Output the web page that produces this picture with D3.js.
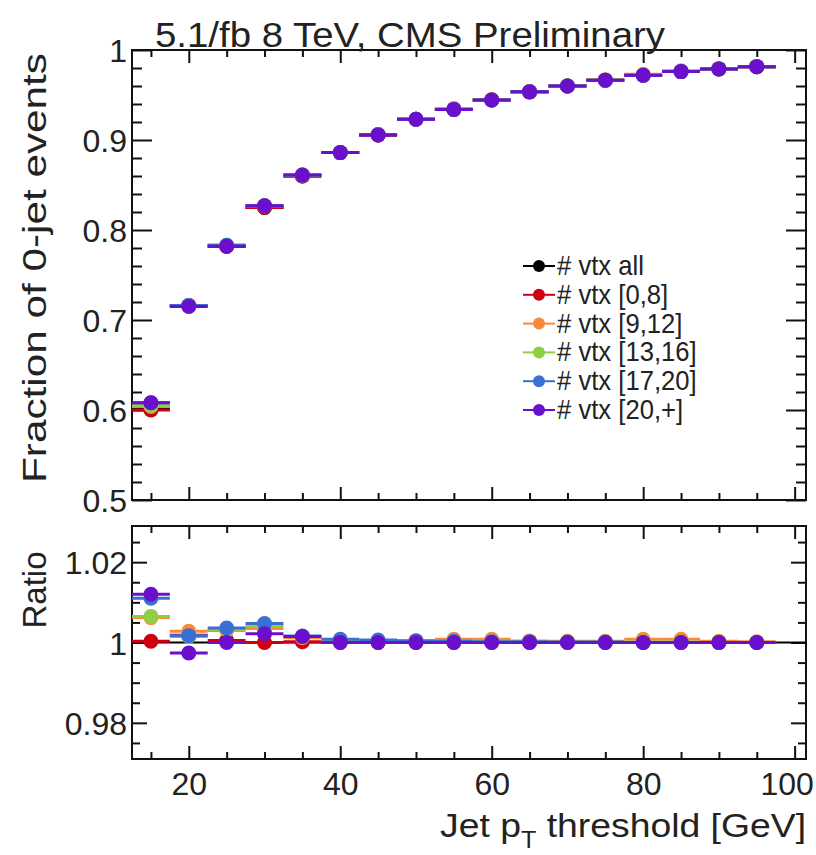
<!DOCTYPE html>
<html><head><meta charset="utf-8">
<script src="https://cdn.jsdelivr.net/npm/d3@7"></script>
<style>body{margin:0;background:#fff}svg{display:block}text{font-family:"Liberation Sans",Arial,sans-serif;fill:#222}</style>
</head><body><svg id="c" width="816" height="855"></svg>
<script>
// ---- data ----
const ptBins = [15,20,25,30,35,40,45,50,55,60,65,70,75,80,85,90,95];
const seriesNames = ["# vtx all","# vtx [0,8]","# vtx [9,12]","# vtx [13,16]","# vtx [17,20]","# vtx [20,+]"];
const seriesColors = ["#000000","#cc0010","#f98a3a","#8fcf42","#3a6fd6","#6a10cc"];
const fracAll    = [0.6005,0.716,0.782,0.825,0.860,0.886,0.9055,0.923,0.934,0.9445,0.9535,0.960,0.9665,0.972,0.976,0.979,0.9815];
const frac0to8   = [0.600,0.716,0.782,0.825,0.860,0.886,0.9055,0.923,0.934,0.9445,0.9535,0.960,0.9665,0.972,0.976,0.979,0.9815];
const frac9to12  = [0.604,0.716,0.783,0.827,0.861,0.886,0.906,0.923,0.935,0.945,0.954,0.960,0.967,0.973,0.977,0.979,0.9815];
const frac13to16 = [0.605,0.716,0.783,0.827,0.861,0.886,0.906,0.923,0.934,0.9445,0.9535,0.960,0.9665,0.972,0.976,0.979,0.9815];
const frac17to20 = [0.608,0.716,0.783,0.827,0.861,0.886,0.906,0.923,0.934,0.9445,0.9535,0.960,0.9665,0.972,0.976,0.979,0.9815];
const frac20plus = [0.608,0.715,0.782,0.827,0.861,0.886,0.9055,0.923,0.934,0.9445,0.9535,0.960,0.9665,0.972,0.976,0.979,0.9815];
const ratio0to8   = [1.0003,1.0018,1.0005,1.0000,1.0002,1.0000,1.0000,1.0000,1.0000,1.0000,1.0000,1.0000,1.0000,1.0000,1.0000,1.0000,1.0000];
const ratio9to12  = [1.0062,1.0028,1.0030,1.0035,1.0012,1.0005,1.0003,1.0005,1.0008,1.0008,1.0004,1.0003,1.0003,1.0008,1.0008,1.0003,1.0002];
const ratio13to16 = [1.0065,1.0015,1.0033,1.0042,1.0015,1.0006,1.0004,1.0003,1.0003,1.0002,1.0002,1.0001,1.0001,1.0001,1.0001,1.0000,1.0000];
const ratio17to20 = [1.0110,1.0017,1.0036,1.0047,1.0016,1.0008,1.0006,1.0004,1.0003,1.0002,1.0002,1.0001,1.0001,1.0000,1.0000,1.0000,1.0000];
const ratio20plus = [1.0120,0.9974,1.0000,1.0022,1.0015,1.0000,1.0000,1.0000,1.0000,1.0000,1.0000,1.0000,1.0000,1.0000,1.0000,1.0000,1.0000];
const xTickVals = [20,40,60,80,100];
const xTickLabels = ["20","40","60","80","100"];
const topTickVals = [0.5,0.6,0.7,0.8,0.9,1.0];
const topTickLabels = ["0.5","0.6","0.7","0.8","0.9","1"];
const ratioTickVals = [0.98,1.0,1.02];
const ratioTickLabels = ["0.98","1","1.02"];
const binHalfWidth = 2.5;

const topSeries = [fracAll,frac0to8,frac9to12,frac13to16,frac17to20,frac20plus];
const ratioSeries = [null,ratio0to8,ratio9to12,ratio13to16,ratio17to20,ratio20plus];

// ---- layout ----
const L = 132, R = 806;
const topT = 50, topB = 500;
const rT = 526, rB = 759;
const svg = d3.select("#c");
const x = d3.scaleLinear().domain([12.5,101.5]).range([L,R]);
const yTop = d3.scaleLinear().domain([0.5,1.0]).range([topB,topT]);
const yR = d3.scaleLinear().domain([0.971,1.029]).range([rB,rT]);

function axes(g, y, yMaj, yMajLab, yMin, yMajLen, yMinLen, top, bottom, showX){
  const fs = 32;
  const al = g.append("g").attr("transform",`translate(${L},0)`)
    .call(d3.axisLeft(y).tickValues(yMaj).tickSize(-yMajLen).tickPadding(5)
      .tickFormat((d,i)=>yMajLab[i]));
  al.selectAll("text").style("font-size",fs+"px").attr("dy","0.36em");
  g.append("g").attr("transform",`translate(${L},0)`)
    .call(d3.axisLeft(y).tickValues(yMin).tickSize(-yMinLen).tickFormat(""));
  g.append("g").attr("transform",`translate(${R},0)`)
    .call(d3.axisRight(y).tickValues(yMaj).tickSize(-yMajLen).tickFormat(""));
  g.append("g").attr("transform",`translate(${R},0)`)
    .call(d3.axisRight(y).tickValues(yMin).tickSize(-yMinLen).tickFormat(""));
  const xMin = d3.range(15,101,5).filter(v=>v%20!==0);
  const ab = g.append("g").attr("transform",`translate(0,${bottom})`)
    .call(d3.axisBottom(x).tickValues(xTickVals).tickSize(-13).tickPadding(13)
      .tickFormat((d,i)=> showX ? xTickLabels[i] : ""));
  ab.selectAll("text").style("font-size",fs+"px");
  ab.selectAll("text").filter(d=>d===100).attr("dx",-8);
  g.append("g").attr("transform",`translate(0,${bottom})`)
    .call(d3.axisBottom(x).tickValues(xMin).tickSize(-7).tickFormat(""));
  g.append("g").attr("transform",`translate(0,${top})`)
    .call(d3.axisTop(x).tickValues(xTickVals).tickSize(-13).tickFormat(""));
  g.append("g").attr("transform",`translate(0,${top})`)
    .call(d3.axisTop(x).tickValues(xMin).tickSize(-7).tickFormat(""));
  g.selectAll(".domain").remove();
  g.selectAll(".tick line").attr("stroke","#111").attr("stroke-width",2);
  g.append("rect").attr("x",L).attr("y",top).attr("width",R-L).attr("height",bottom-top)
    .attr("fill","none").attr("stroke","#111").attr("stroke-width",2);
}

const gTop = svg.append("g");
axes(gTop, yTop, topTickVals, topTickLabels, d3.range(0.52,1.0,0.02).filter(v=>Math.abs(v*10-Math.round(v*10))>1e-6), 20, 10, topT, topB, false);
const gR = svg.append("g");
axes(gR, yR, ratioTickVals, ratioTickLabels, [0.975,0.985,0.99,0.995,1.005,1.01,1.015,1.025], 15, 8, rT, rB, true);

gR.append("line").attr("x1",L).attr("x2",R).attr("y1",yR(1)).attr("y2",yR(1))
  .attr("stroke","#000").attr("stroke-width",2);

function drawSeries(g, y, vals, color){
  const s = g.append("g");
  s.selectAll("line.eb").data(vals).join("line").attr("class","eb")
    .attr("x1",(d,i)=>x(ptBins[i]-binHalfWidth)).attr("x2",(d,i)=>x(ptBins[i]+binHalfWidth))
    .attr("y1",d=>y(d)).attr("y2",d=>y(d)).attr("stroke",color).attr("stroke-width",3);
  s.selectAll("circle").data(vals).join("circle")
    .attr("cx",(d,i)=>x(ptBins[i])).attr("cy",d=>y(d)).attr("r",7.5).attr("fill",color);
}
topSeries.forEach((v,i)=>drawSeries(gTop,yTop,v,seriesColors[i]));
ratioSeries.forEach((v,i)=>{ if(v) drawSeries(gR,yR,v,seriesColors[i]); });

// legend
const lg = svg.append("g");
seriesNames.forEach((n,i)=>{
  const yy = 266 + i*28.8;
  lg.append("line").attr("x1",523).attr("x2",555).attr("y1",yy).attr("y2",yy)
    .attr("stroke",seriesColors[i]).attr("stroke-width",2);
  lg.append("circle").attr("cx",539).attr("cy",yy).attr("r",6).attr("fill",seriesColors[i]);
  lg.append("text").attr("x",557).attr("y",yy+9).style("font-size","27px")
    .attr("transform",`translate(557,0) scale(0.95,1) translate(-557,0)`).text(n);
});

// texts
svg.append("text").attr("x",155).attr("y",47).style("font-size","35px")
  .attr("textLength",510).attr("lengthAdjust","spacingAndGlyphs").text("5.1/fb 8 TeV, CMS Preliminary");
svg.append("text").attr("transform","translate(46,268) rotate(-90)").attr("text-anchor","middle")
  .style("font-size","33px").attr("textLength",430).attr("lengthAdjust","spacingAndGlyphs")
  .text("Fraction of 0-jet events");
svg.append("text").attr("transform","translate(46,590) rotate(-90)").attr("text-anchor","middle")
  .style("font-size","33px").text("Ratio");
const xl = svg.append("text").attr("x",806).attr("y",837).attr("text-anchor","end").style("font-size","34px")
  .attr("textLength",366).attr("lengthAdjust","spacingAndGlyphs");
xl.append("tspan").text("Jet p");
xl.append("tspan").attr("dy",11).style("font-size","23px").text("T");
xl.append("tspan").attr("dy",-11).text(" threshold [GeV]");
</script></body></html>
